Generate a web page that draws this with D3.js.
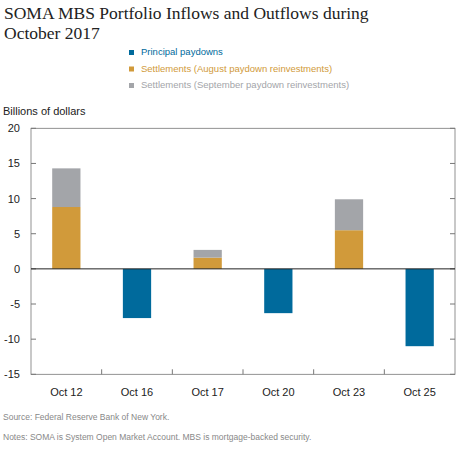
<!DOCTYPE html><html><head><meta charset="utf-8"><script src="https://d3js.org/d3.v7.min.js"></script>
<style>body{margin:0;background:#fff}</style></head><body><svg id="c" width="460" height="460"></svg>
<script>
const categories=["Oct 12","Oct 16","Oct 17","Oct 20","Oct 23","Oct 25"];
const principal=[0,-7.0,0,-6.3,0,-11.0];
const augSettle=[8.8,0,1.6,0,5.5,0];
const sepSettle=[5.5,0,1.1,0,4.4,0];
const yTicks=[20,15,10,5,0,-5,-10,-15];
const colors={p:"#006a9c",a:"#d19a3a",s:"#a3a5a9"};
const svg=d3.select("#c");
const L=31,R=455,T=128.3,B=374.3;
svg.append("text").attr("x",4).attr("y",19).attr("font-family","Liberation Serif").attr("font-size",17.5).attr("fill","#222").text("SOMA MBS Portfolio Inflows and Outflows during");
svg.append("text").attr("x",4).attr("y",39).attr("font-family","Liberation Serif").attr("font-size",17.5).attr("fill","#222").text("October 2017");
const leg=[["Principal paydowns",colors.p],["Settlements (August paydown reinvestments)",colors.a],["Settlements (September paydown reinvestments)",colors.s]];
leg.forEach((d,i)=>{const y=55+i*16.5;
svg.append("rect").attr("x",129).attr("y",y-5).attr("width",5).attr("height",5).attr("fill",d[1]);
svg.append("text").attr("x",141).attr("y",y).attr("font-family","Liberation Sans").attr("font-size",9.5).attr("fill",d[1]).text(d[0]);});
svg.append("text").attr("x",3).attr("y",115).attr("font-family","Liberation Sans").attr("font-size",11).attr("fill","#222").text("Billions of dollars");
const x=d3.scaleBand().domain(categories).range([L,R]).paddingInner(0).paddingOuter(0);
const y=d3.scaleLinear().domain([-15,20]).range([B,T]);
const bw=x.bandwidth()*0.4;
const g=svg.append("g");
categories.forEach((c,i)=>{const cx=x(c)+x.bandwidth()/2-bw/2;
if(principal[i]<0)g.append("rect").attr("x",cx).attr("y",y(0)).attr("width",bw).attr("height",y(principal[i])-y(0)).attr("fill",colors.p);
if(augSettle[i]>0)g.append("rect").attr("x",cx).attr("y",y(augSettle[i])).attr("width",bw).attr("height",y(0)-y(augSettle[i])).attr("fill",colors.a);
if(sepSettle[i]>0)g.append("rect").attr("x",cx).attr("y",y(augSettle[i]+sepSettle[i])).attr("width",bw).attr("height",y(augSettle[i])-y(augSettle[i]+sepSettle[i])).attr("fill",colors.s);});
svg.append("rect").attr("x",L).attr("y",T).attr("width",R-L).attr("height",B-T).attr("fill","none").attr("stroke","#777").attr("stroke-width",0.8);
yTicks.forEach(t=>{svg.append("line").attr("x1",L).attr("x2",L+5).attr("y1",y(t)).attr("y2",y(t)).attr("stroke","#777");
svg.append("line").attr("x1",R-5).attr("x2",R).attr("y1",y(t)).attr("y2",y(t)).attr("stroke","#777");
svg.append("text").attr("x",20).attr("y",y(t)+4).attr("text-anchor","end").attr("font-family","Liberation Sans").attr("font-size",11).attr("fill","#222").text(t);});
categories.slice(1).forEach(c=>svg.append("line").attr("x1",x(c)).attr("x2",x(c)).attr("y1",B).attr("y2",B-5).attr("stroke","#777"));
svg.append("line").attr("x1",L).attr("x2",R).attr("y1",y(0)).attr("y2",y(0)).attr("stroke","#222").attr("stroke-width",1);
categories.forEach(c=>svg.append("text").attr("x",x(c)+x.bandwidth()/2).attr("y",396).attr("text-anchor","middle").attr("font-family","Liberation Sans").attr("font-size",11).attr("fill","#222").text(c));
svg.append("text").attr("x",3).attr("y",420).attr("font-family","Liberation Sans").attr("font-size",8.5).attr("fill","#888").text("Source: Federal Reserve Bank of New York.");
svg.append("text").attr("x",3).attr("y",440).attr("font-family","Liberation Sans").attr("font-size",8.5).attr("fill","#888").text("Notes: SOMA is System Open Market Account. MBS is mortgage-backed security.");
</script></body></html>
